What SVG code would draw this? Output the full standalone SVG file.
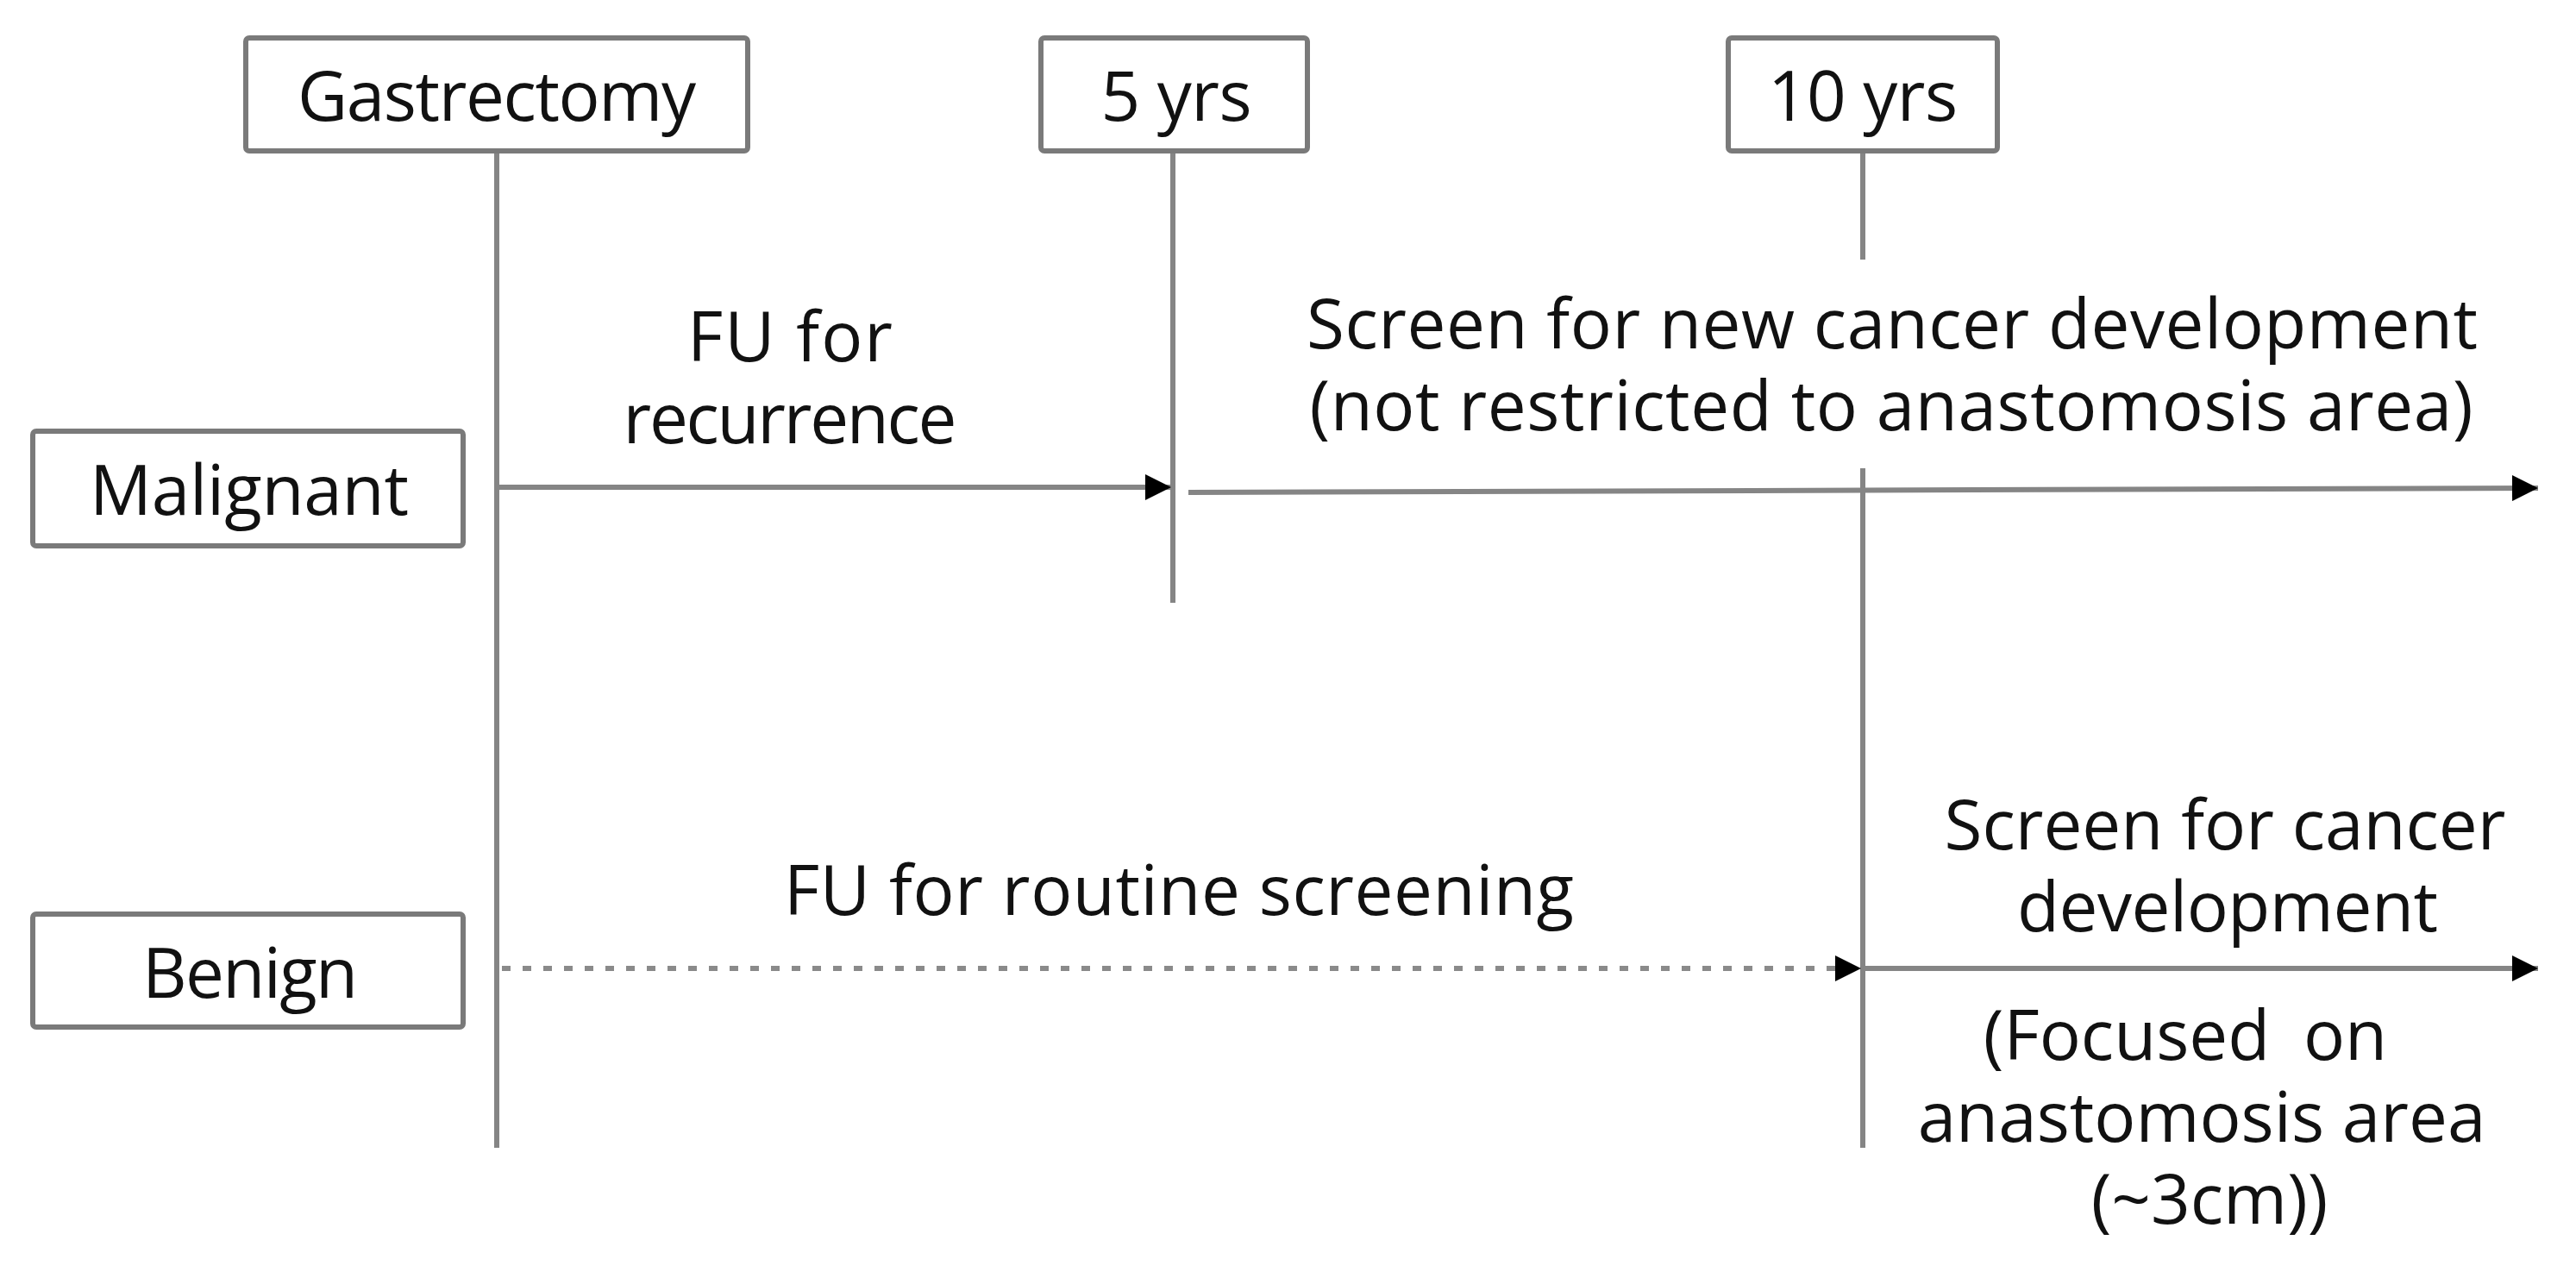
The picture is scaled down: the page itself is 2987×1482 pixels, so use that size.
<svg xmlns="http://www.w3.org/2000/svg" width="2987" height="1482" viewBox="0 0 2987 1482">
<defs>
<style>
.box{fill:#fff;stroke:#7a7a7a;stroke-width:6}
.t{font-family:"Open Sans","Noto Sans","DejaVu Sans",sans-serif;font-size:80px;fill:#111;text-anchor:middle}
.ln{stroke:#858585;stroke-width:6;fill:none}
.dot{stroke:#8a8a8a;stroke-width:6;fill:none;stroke-dasharray:10 14}
</style>
<marker id="ah" markerUnits="userSpaceOnUse" markerWidth="30" markerHeight="30" viewBox="0 0 28 28" refX="28" refY="14" orient="auto">
<path d="M0,0 L28,14 L0,28 Z" fill="#000"/>
</marker>
</defs>
<rect width="2987" height="1482" fill="#fff"/>
<g id="connectors">
<line class="ln" x1="576" y1="175" x2="576" y2="1331"/>
<line class="ln" x1="1360" y1="175" x2="1360" y2="699"/>
<line class="ln" x1="2160" y1="175" x2="2160" y2="301"/>
<line class="ln" x1="2160" y1="543" x2="2160" y2="1331"/>
<line class="ln" x1="579" y1="565" x2="1358" y2="565" marker-end="url(#ah)"/>
<line class="ln" x1="1378" y1="571" x2="2943" y2="566" marker-end="url(#ah)"/>
<line class="dot" x1="582" y1="1123" x2="2158" y2="1123" marker-end="url(#ah)"/>
<line class="ln" x1="2160" y1="1123" x2="2943" y2="1123" marker-end="url(#ah)"/>
</g>
<g id="gastrectomy">
<rect class="box" x="285" y="44" width="582" height="131" rx="4"/>
<text class="t" x="576" y="140" textLength="462">Gastrectomy</text>
</g>
<g id="yrs5">
<rect class="box" x="1207" y="44" width="309" height="131" rx="4"/>
<text class="t" x="1364" y="140" textLength="175">5 yrs</text>
</g>
<g id="yrs10">
<rect class="box" x="2004" y="44" width="312" height="131" rx="4"/>
<text class="t" x="2160" y="140" textLength="220">10 yrs</text>
</g>
<g id="malignant">
<rect class="box" x="38" y="500" width="499" height="133" rx="4"/>
<text class="t" x="289" y="597" textLength="370">Malignant</text>
</g>
<g id="benign">
<rect class="box" x="38" y="1060" width="499" height="131" rx="4"/>
<text class="t" x="290" y="1157" textLength="250">Benign</text>
</g>
<g id="labels">
<text class="t" x="916" y="419" textLength="238">FU for</text>
<text class="t" x="916" y="514" textLength="387">recurrence</text>
<text class="t" x="2194" y="404" textLength="1358">Screen for new cancer development</text>
<text class="t" x="2193" y="499" textLength="1349">(not restricted to anastomosis area)</text>
<text class="t" x="1367" y="1061" textLength="916">FU for routine screening</text>
<text class="t" x="2580" y="985" textLength="651">Screen for cancer</text>
<text class="t" x="2583" y="1080" textLength="488">development</text>
<text class="t" x="2534" y="1229" word-spacing="18">(Focused on</text>
<text class="t" x="2553" y="1324">anastomosis area</text>
<text class="t" x="2562" y="1419">(~3cm))</text>
</g>
</svg>
